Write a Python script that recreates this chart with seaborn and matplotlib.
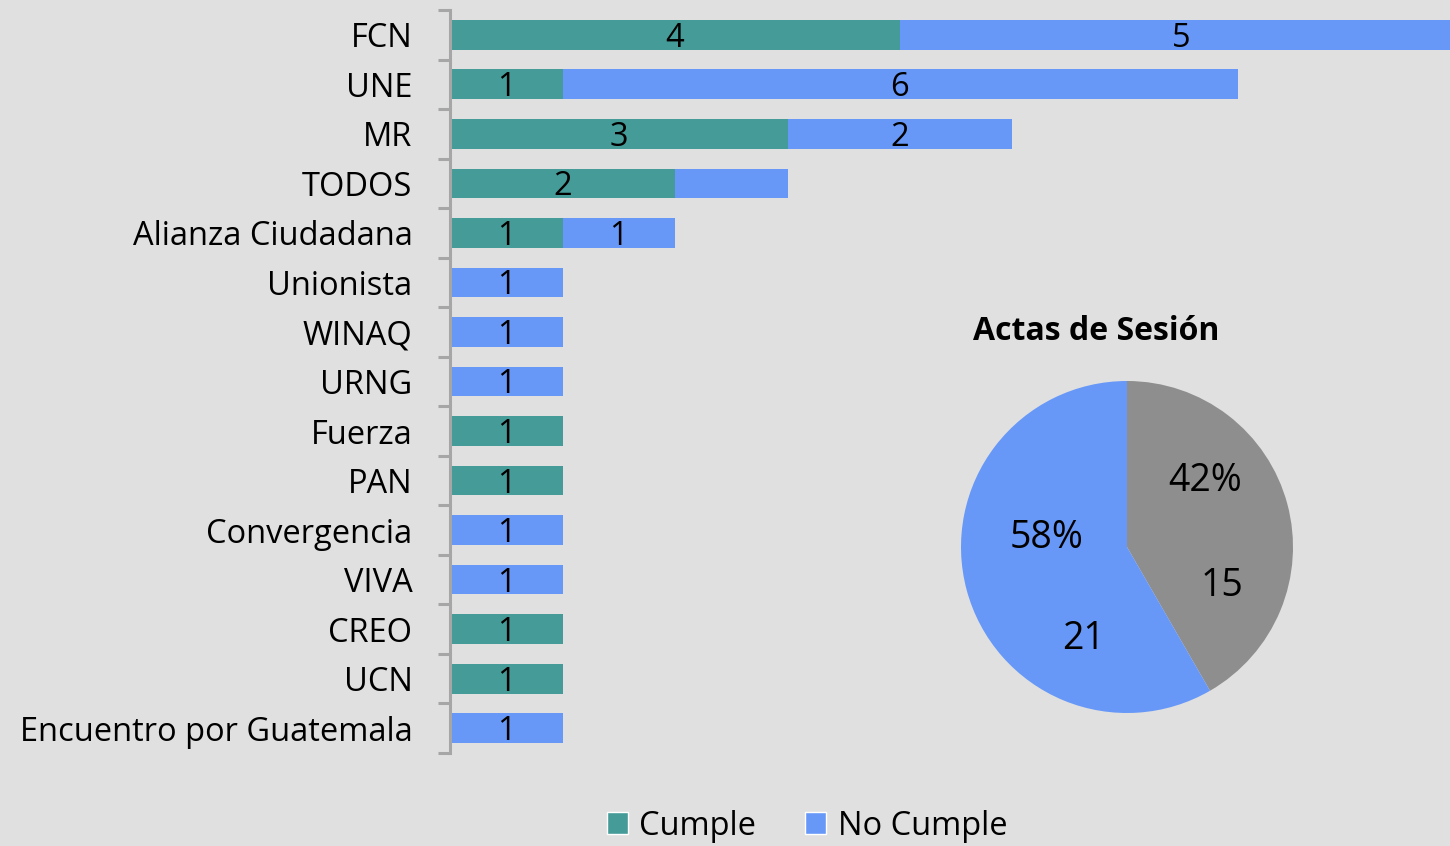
import matplotlib
matplotlib.use("Agg")
import pandas as pd
import seaborn as sns
import matplotlib.pyplot as plt
from matplotlib.patches import Patch
from matplotlib.ticker import FixedLocator

# Data
partidos = ["FCN", "UNE", "MR", "TODOS", "Alianza Ciudadana", "Unionista", "WINAQ",
            "URNG", "Fuerza", "PAN", "Convergencia", "VIVA", "CREO", "UCN",
            "Encuentro por Guatemala"]
cumple = [4, 1, 3, 2, 1, 0, 0, 0, 1, 1, 0, 0, 1, 1, 0]
no_cumple = [5, 6, 2, 1, 1, 1, 1, 1, 0, 0, 1, 1, 0, 0, 1]
no_cumple_labels = ["5", "6", "2", "", "1", "1", "1", "1", "", "", "1", "1", "", "", "1"]

pie_labels = ["Cumple", "No Cumple"]
pie_values = [15, 21]
pie_pct = ["42%", "58%"]

teal = "#459b98"
blue = "#6798f8"
gray = "#8e8e8e"
bg = "#e0e0e0"
fs = 23.5

df = pd.DataFrame({"partido": partidos, "cumple": cumple, "no_cumple": no_cumple})
df["total"] = df["cumple"] + df["no_cumple"]

sns.set_style("white")
plt.rcParams["font.family"] = ["Open Sans", "DejaVu Sans"]
plt.rcParams["text.color"] = "black"
plt.rcParams["ytick.labelcolor"] = "black"

fig = plt.figure(figsize=(14.5, 8.46), dpi=100, facecolor=bg)
ax = fig.add_axes([450 / 1450, 1 - 753 / 846, 1 - 450 / 1450, (753 - 10) / 846])
ax.set_facecolor(bg)

# stacked bars: total in blue, cumple drawn over it
sns.barplot(data=df, y="partido", x="total", color=blue, width=0.6,
            linewidth=0, saturation=1, ax=ax, orient="h")
sns.barplot(data=df, y="partido", x="cumple", color=teal, width=0.6,
            linewidth=0, saturation=1, ax=ax, orient="h")

ax.set_xlim(0, 1000 / 112.5)
ax.set_ylim(len(partidos) - 0.5, -0.5)
ax.set_xlabel("")
ax.set_ylabel("")
ax.set_xticks([])

for s in ["top", "right", "bottom"]:
    ax.spines[s].set_visible(False)
ax.spines["left"].set_color("#a6a6a6")
ax.spines["left"].set_linewidth(2.2)

ax.tick_params(axis="y", which="major", length=0, pad=27, labelsize=fs, labelcolor="black")
ax.yaxis.set_minor_locator(FixedLocator([i - 0.5 for i in range(len(partidos) + 1)]))
ax.tick_params(axis="y", which="minor", left=True, length=9, width=2.2, color="#a6a6a6")

for i in range(len(partidos)):
    if cumple[i] > 0:
        ax.text(cumple[i] / 2, i + 0.07, str(cumple[i]), ha="center", va="center",
                fontsize=fs, color="black")
    if no_cumple_labels[i]:
        ax.text(cumple[i] + no_cumple[i] / 2, i + 0.07, no_cumple_labels[i],
                ha="center", va="center", fontsize=fs, color="black")

# legend
handles = [Patch(facecolor=teal, label="Cumple"), Patch(facecolor=blue, label="No Cumple")]
fig.legend(handles=handles, loc="center", bbox_to_anchor=(807 / 1450, 1 - 826 / 846),
           ncol=2, frameon=False, fontsize=fs, handlelength=0.65, handleheight=0.65,
           handletextpad=0.35, columnspacing=1.5, labelcolor="black")

# pie
r = 166
pax = fig.add_axes([(1127 - r) / 1450, 1 - (547 + r) / 846, 2 * r / 1450, 2 * r / 846])
pax.pie(pie_values, colors=[gray, blue], startangle=90, counterclock=False,
        wedgeprops={"linewidth": 0})
pax.set_aspect("equal")
pax.set_xlim(-1, 1)
pax.set_ylim(-1, 1)

def px(x, y):
    return (x - 1127) / r, (547 - y) / r

for (x, y), t in [((1205, 481), "42%"), ((1222, 586), "15"),
                  ((1047, 538), "58%"), ((1083, 639), "21")]:
    pax.text(*px(x, y), t, ha="center", va="center", fontsize=27, color="black")

fig.text(1096 / 1450, 1 - 332 / 846, "Actas de Sesión", ha="center", va="center",
         fontsize=23, fontweight="bold", color="black")

fig.savefig("out.png", dpi=100, facecolor=bg)
